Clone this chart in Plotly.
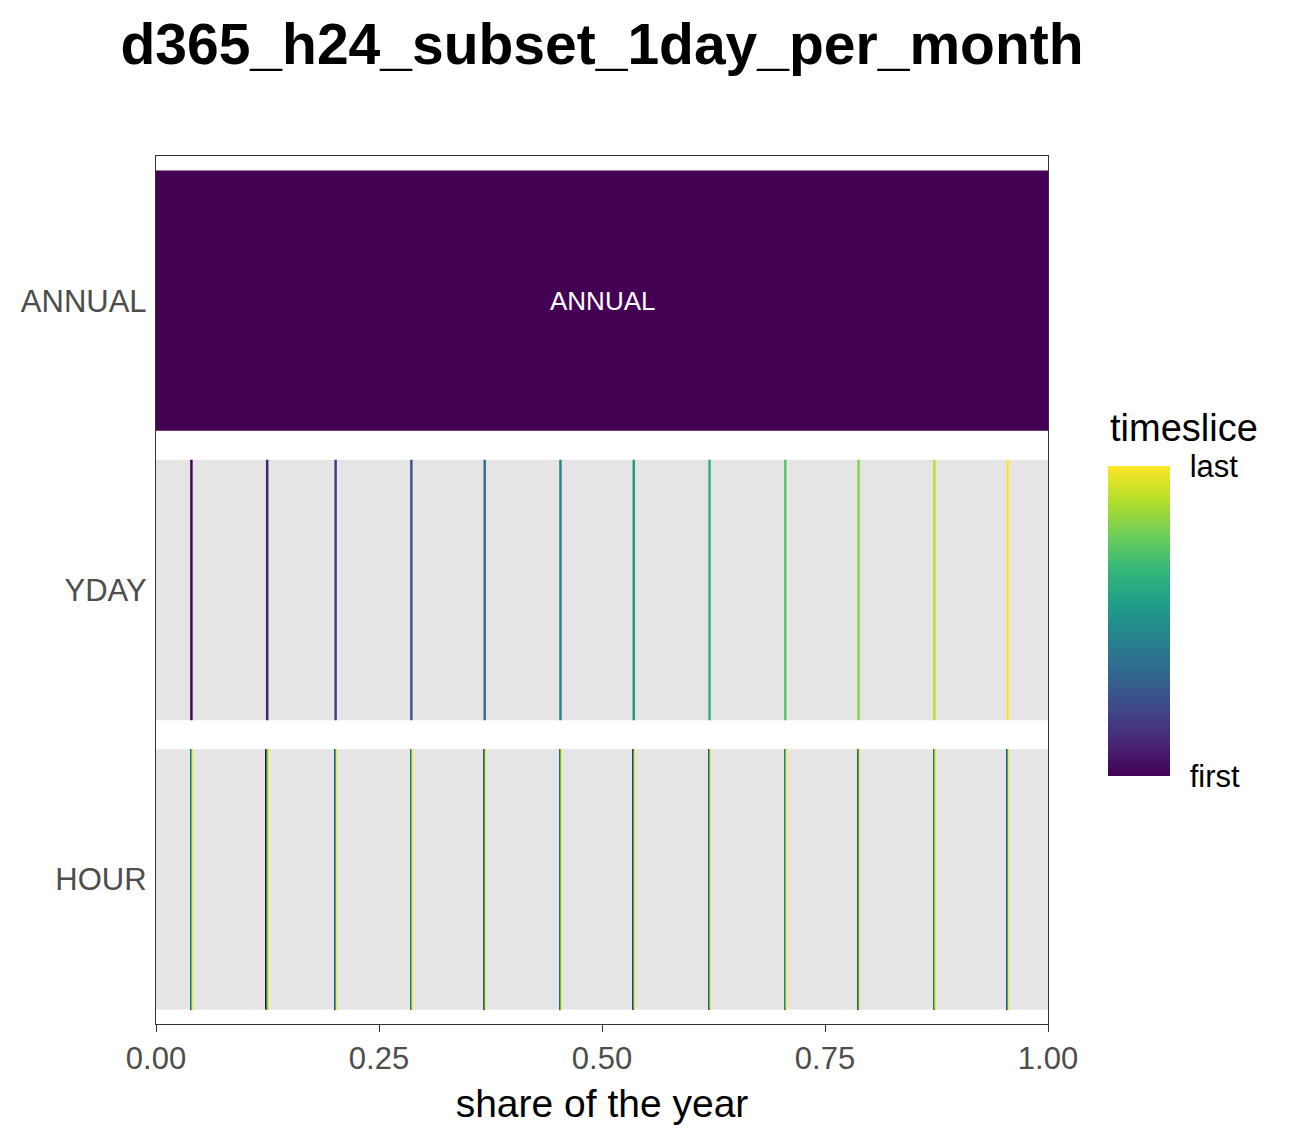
import plotly.graph_objects as go

# ---- data ----
title_text = "d365_h24_subset_1day_per_month"
levels = ["ANNUAL", "YDAY", "HOUR"]
days_in_year = 365
hours_in_day = 24
# selected day of year (one per month, the 15th)
day_of_year = [15, 46, 74, 105, 135, 166, 196, 227, 258, 288, 319, 349]
hours = list(range(1, 25))
x_ticks = [0.0, 0.25, 0.5, 0.75, 1.0]
x_tick_labels = ["0.00", "0.25", "0.50", "0.75", "1.00"]

FONT = "Liberation Sans, Arial, sans-serif"
GRAY_BG = "#e5e5e5"

W, H = 1292, 1136          # page body has an 8px margin
ML, MT = 148, 148
PW, PH = 892, 868
MR = W - ML - PW
MB = H - MT - PH

fig = go.Figure()

# gray background for the sub-annual levels
fig.add_trace(go.Bar(
    orientation="h",
    y=["YDAY", "HOUR"],
    x=[1.0, 1.0],
    base=[0.0, 0.0],
    width=0.9,
    marker=dict(color=GRAY_BG, line=dict(width=0)),
    showlegend=False,
    hoverinfo="skip",
))

# timeslice bars
ys, xs, bases, vals = [], [], [], []
# ANNUAL
ys.append("ANNUAL"); xs.append(1.0); bases.append(0.0); vals.append(0.0)
# YDAY
n_d = len(day_of_year)
for i, d in enumerate(day_of_year):
    ys.append("YDAY")
    xs.append(1.0 / days_in_year)
    bases.append((d - 1) / days_in_year)
    vals.append(i / (n_d - 1))
# HOUR
for d in day_of_year:
    for h in hours:
        ys.append("HOUR")
        xs.append(1.0 / (days_in_year * hours_in_day))
        bases.append((d - 1) / days_in_year + (h - 1) / (days_in_year * hours_in_day))
        vals.append((h - 1) / (len(hours) - 1))

# colorbar geometry (pixels in the figure)
cb_top, cb_bottom = 458, 768
cb_left = 1100
cb_y = 1 - ((cb_top + cb_bottom) / 2 - MT) / PH
cb_x = (cb_left - ML) / PW

fig.add_trace(go.Bar(
    orientation="h",
    y=ys, x=xs, base=bases,
    width=0.9,
    marker=dict(
        color=vals, colorscale="Viridis", cmin=0, cmax=1,
        line=dict(width=0),
        showscale=True,
        colorbar=dict(
            tickvals=[0, 1], ticktext=["first", "last"],
            tickfont=dict(family=FONT, size=31, color="black"),
            ticks="outside", ticklen=14, tickcolor="rgba(255,255,255,0)",
            outlinewidth=0,
            thickness=62, thicknessmode="pixels",
            len=cb_bottom - cb_top, lenmode="pixels",
            x=cb_x, xanchor="left", xpad=0,
            y=cb_y, yanchor="middle", ypad=0,
        ),
    ),
    showlegend=False,
    hoverinfo="skip",
))

fig.add_annotation(x=0.5, y="ANNUAL", text="ANNUAL", showarrow=False,
                   font=dict(family=FONT, size=26, color="white"))

# colorbar title
fig.add_annotation(x=cb_x, xref="paper", xanchor="left",
                   y=1 - (420 - MT) / PH, yref="paper", yanchor="middle",
                   text="timeslice", showarrow=False,
                   font=dict(family=FONT, size=38, color="black"))

fig.update_layout(
    width=W, height=H,
    margin=dict(l=ML, r=MR, t=MT, b=MB),
    paper_bgcolor="white", plot_bgcolor="white",
    barmode="overlay",
    title=dict(text=title_text, x=0.5, xref="paper", xanchor="center",
               y=1 - 36 / H, yref="container", yanchor="middle",
               font=dict(family=FONT, size=57, color="black", weight="bold")),
    xaxis=dict(
        range=[0, 1], tickvals=x_ticks, ticktext=x_tick_labels,
        ticks="outside", ticklen=7, tickwidth=1.4, tickcolor="#333333",
        tickfont=dict(family=FONT, size=31, color="#4d4d4d"),
        showline=True, linecolor="#333333", linewidth=1.4, mirror=True,
        showgrid=False, zeroline=False,
        title=dict(text="share of the year", standoff=14,
                   font=dict(family=FONT, size=39, color="black")),
    ),
    yaxis=dict(
        type="category", categoryorder="array", categoryarray=levels,
        range=[2.5, -0.5],
        ticks="", ticklabelstandoff=2,
        tickfont=dict(family=FONT, size=31, color="#4d4d4d"),
        showline=True, linecolor="#333333", linewidth=1.4, mirror=True,
        showgrid=False, zeroline=False,
    ),
)

fig.write_html("out.html")
